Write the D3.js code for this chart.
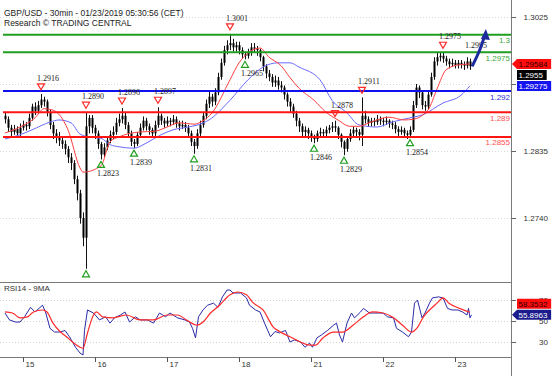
<!DOCTYPE html>
<html>
<head>
<meta charset="utf-8">
<script src="https://cdn.jsdelivr.net/npm/d3@7"></script>
<style>
  body { margin: 0; background: #fff; }
  text { font-family: "Liberation Sans", Arial, sans-serif; }
</style>
</head>
<body>
<div id="chart"></div>
<script>
// GBP/USD hourly bars, hour 0 = Jan 15 00:00, trading hours only (weekend removed)
var startHour = -6;
var firstOpen = 1.2885;

var closes = [
  1.2880, 1.2868, 1.2862, 1.2866, 1.2860, 1.2868,
  1.2872, 1.2870, 1.2882, 1.2898, 1.2892, 1.2900, 1.2908, 1.2905, 1.2890, 1.2872, 1.2860, 1.2855,
  1.2850, 1.2845, 1.2838, 1.2826, 1.2818, 1.2795, 1.2775, 1.2740, 1.2712, 1.2870, 1.2882, 1.2868,
  1.2860, 1.2845, 1.2830, 1.2840, 1.2850, 1.2858, 1.2862, 1.2875, 1.2880, 1.2885, 1.2872, 1.2860,
  1.2848, 1.2845, 1.2858, 1.2868, 1.2878, 1.2870, 1.2865, 1.2860, 1.2872, 1.2885, 1.2878, 1.2874,
  1.2878, 1.2876, 1.2880, 1.2874, 1.2870, 1.2872, 1.2868, 1.2860, 1.2848, 1.2842, 1.2860, 1.2872,
  1.2885, 1.2902, 1.2912, 1.2905, 1.2918, 1.2940, 1.2960, 1.2978, 1.2985, 1.2988, 1.2982, 1.2985,
  1.2978, 1.2972, 1.2970, 1.2975, 1.2982, 1.2980, 1.2978, 1.2968, 1.2955, 1.2945, 1.2940, 1.2932,
  1.2935, 1.2928, 1.2925, 1.2915, 1.2905, 1.2898, 1.2888, 1.2878, 1.2870, 1.2862, 1.2865, 1.2860,
  1.2855, 1.2852, 1.2860, 1.2862, 1.2860, 1.2865, 1.2868, 1.2870, 1.2868, 1.2858, 1.2848, 1.2838,
  1.2852, 1.2860, 1.2865, 1.2862, 1.2858, 1.2885, 1.2880, 1.2875, 1.2878, 1.2876, 1.2880, 1.2878,
  1.2876, 1.2878, 1.2874, 1.2872, 1.2866, 1.2862, 1.2865, 1.2860, 1.2858, 1.2865, 1.2900, 1.2925,
  1.2918, 1.2900, 1.2898, 1.2915, 1.2940, 1.2962, 1.2968, 1.2970, 1.2966, 1.2962, 1.2958, 1.2960,
  1.2957, 1.2960, 1.2958, 1.2956, 1.2962, 1.2955
];

var highs = [
  1.2890, 1.2884, 1.2872, 1.2872, 1.2870, 1.2874, 1.2878, 1.2876, 1.2888, 1.2902, 1.2904, 1.2906,
  1.2916, 1.2912, 1.2908, 1.2894, 1.2876, 1.2866, 1.2862, 1.2856, 1.2850, 1.2842, 1.2832, 1.2822,
  1.2800, 1.2780, 1.2748, 1.2890, 1.2886, 1.2886, 1.2872, 1.2864, 1.2848, 1.2846, 1.2856, 1.2864,
  1.2870, 1.2882, 1.2888, 1.2896, 1.2890, 1.2876, 1.2864, 1.2852, 1.2862, 1.2874, 1.2884, 1.2882,
  1.2874, 1.2868, 1.2878, 1.2897, 1.2888, 1.2882, 1.2884, 1.2882, 1.2886, 1.2884, 1.2878, 1.2878,
  1.2876, 1.2872, 1.2864, 1.2852, 1.2866, 1.2878, 1.2890, 1.2908, 1.2920, 1.2916, 1.2924, 1.2946,
  1.2966, 1.2984, 1.2992, 1.3001, 1.2994, 1.2990, 1.2990, 1.2982, 1.2976, 1.2980, 1.2988, 1.2988,
  1.2984, 1.2980, 1.2970, 1.2958, 1.2950, 1.2944, 1.2942, 1.2940, 1.2934, 1.2928, 1.2918, 1.2910,
  1.2902, 1.2892, 1.2882, 1.2874, 1.2870, 1.2868, 1.2864, 1.2858, 1.2864, 1.2868, 1.2866, 1.2870,
  1.2872, 1.2876, 1.2878, 1.2870, 1.2860, 1.2850, 1.2856, 1.2866, 1.2870, 1.2868, 1.2866, 1.2911,
  1.2892, 1.2884, 1.2882, 1.2882, 1.2886, 1.2884, 1.2882, 1.2884, 1.2880, 1.2878, 1.2876, 1.2870,
  1.2870, 1.2868, 1.2864, 1.2870, 1.2906, 1.2930, 1.2928, 1.2920, 1.2906, 1.2920, 1.2946, 1.2968,
  1.2974, 1.2974, 1.2975, 1.2970, 1.2966, 1.2966, 1.2964, 1.2964, 1.2964, 1.2962, 1.2968, 1.2966
];

var lows = [
  1.2874, 1.2862, 1.2856, 1.2858, 1.2855, 1.2856, 1.2864, 1.2864, 1.2866, 1.2878, 1.2886, 1.2888,
  1.2896, 1.2898, 1.2884, 1.2866, 1.2852, 1.2846, 1.2842, 1.2838, 1.2830, 1.2818, 1.2808, 1.2788,
  1.2765, 1.2732, 1.2700, 1.2668, 1.2860, 1.2860, 1.2852, 1.2838, 1.2823, 1.2826, 1.2836, 1.2846,
  1.2852, 1.2858, 1.2870, 1.2874, 1.2866, 1.2854, 1.2842, 1.2839, 1.2842, 1.2854, 1.2864, 1.2864,
  1.2858, 1.2854, 1.2856, 1.2868, 1.2872, 1.2868, 1.2870, 1.2870, 1.2872, 1.2868, 1.2864, 1.2866,
  1.2862, 1.2854, 1.2842, 1.2831, 1.2838, 1.2856, 1.2868, 1.2880, 1.2896, 1.2898, 1.2900, 1.2914,
  1.2936, 1.2956, 1.2972, 1.2978, 1.2976, 1.2976, 1.2972, 1.2966, 1.2965, 1.2966, 1.2970, 1.2974,
  1.2970, 1.2962, 1.2948, 1.2938, 1.2934, 1.2926, 1.2926, 1.2922, 1.2918, 1.2908, 1.2898, 1.2890,
  1.2882, 1.2870, 1.2862, 1.2856, 1.2856, 1.2852, 1.2848, 1.2846, 1.2848, 1.2855, 1.2854, 1.2856,
  1.2860, 1.2862, 1.2862, 1.2852, 1.2840, 1.2829, 1.2834, 1.2848, 1.2856, 1.2856, 1.2850, 1.2842,
  1.2874, 1.2870, 1.2870, 1.2870, 1.2872, 1.2872, 1.2870, 1.2872, 1.2868, 1.2866, 1.2860, 1.2856,
  1.2858, 1.2854, 1.2852, 1.2854, 1.2862, 1.2896, 1.2910, 1.2894, 1.2892, 1.2894, 1.2912, 1.2936,
  1.2956, 1.2962, 1.2960, 1.2956, 1.2952, 1.2954, 1.2952, 1.2952, 1.2952, 1.2950, 1.2952, 1.2950
];

// moving averages (hour, price)
var maFastHours = [-6, -1, 4, 7, 10, 15, 19, 20, 26, 29, 32, 39, 44, 48, 52, 57, 60, 63, 69, 72,
  75, 79, 82, 86, 89, 92, 97, 101, 105, 109, 112, 116, 122, 127, 130, 135, 138, 141, 145, 149];
var maFastValues = [1.28605, 1.2869, 1.2882, 1.2895, 1.2893, 1.2865, 1.2811, 1.2805, 1.2814, 1.2848,
  1.2855, 1.2862, 1.2863, 1.2869, 1.2875, 1.2873, 1.2878, 1.2889, 1.2936, 1.2960,
  1.2974, 1.2981, 1.2968, 1.2956, 1.2939, 1.2924, 1.2907, 1.2890, 1.2879, 1.2870,
  1.2870, 1.2876, 1.2883, 1.2879, 1.2880, 1.2893, 1.2923, 1.2950, 1.2957, 1.29584];

var maSlowHours = [-6, -1, 3, 9, 12, 16, 19, 22, 26, 29, 32, 37, 41, 46, 50, 55, 59, 62, 69, 75,
  80, 85, 89, 92, 99, 103, 108, 112, 118, 123, 129, 133, 140, 146, 149];
var maSlowValues = [1.2852, 1.2858, 1.2865, 1.2876, 1.2879, 1.2875, 1.2859, 1.2855, 1.2853, 1.2844,
  1.2841, 1.2839, 1.2846, 1.2858, 1.2865, 1.2869, 1.2873, 1.2879, 1.2907, 1.2936,
  1.2954, 1.2960, 1.2960, 1.2954, 1.2936, 1.2907, 1.2889, 1.2872, 1.2869, 1.2876,
  1.2882, 1.2886, 1.2903, 1.2914, 1.29275];

// key levels
var levelPrices = [1.3, 1.2975, 1.292, 1.289, 1.2855];
var levelLabels = ["1.3", "1.2975", "1.292", "1.289", "1.2855"];
var levelKinds = ["resistance", "resistance", "pivot", "support", "support"];

// swing highs / lows
var pivotHours = [6, 21, 33, 45, 69, 104, 113, 140, 21, 26, 37, 57, 74, 97, 107, 129];
var pivotPrices = [1.2916, 1.2890, 1.2896, 1.2897, 1.3001, 1.2878, 1.2911, 1.2975,
  1.2668, 1.2823, 1.2839, 1.2831, 1.2965, 1.2846, 1.2829, 1.2854];
var pivotKinds = ["high", "high", "high", "high", "high", "high", "high", "high",
  "low", "low", "low", "low", "low", "low", "low", "low"];
var pivotLabels = ["1.2916", "1.2890", "1.2896", "1.2897", "1.3001", "1.2878", "1.2911", "1.2975",
  "", "1.2823", "1.2839", "1.2831", "1.2965", "1.2846", "1.2829", "1.2854"];

// projected path
var targetHours = [149.7, 152.3, 154.3];
var targetPrices = [1.2955, 1.2979, 1.3008];
var targetLabel = "1.2995";

// last values
var mainTagValues = [1.29584, 1.2955, 1.29275];
var mainTagKinds = ["fastMA", "close", "slowMA"];

// RSI14 and its 9MA (hour, value)
var rsiHours = [-6, -4.5, -2.5, -1, 0.5, 2.5, 4, 6.5, 7.5, 9, 10.5, 12.5, 14, 15.5, 17.5, 19, 20, 20.5,
  21.5, 23.5, 25.5, 27.5, 29, 30.5, 32.5, 34, 35.5, 37.5, 39, 41.5, 43.5, 45.5, 47.5, 49, 51.5, 54,
  55.5, 56.5, 57.5, 58.5, 60, 61.5, 63.5, 65, 66.5, 68, 69, 70, 72.5, 74.5, 75.5, 77.5, 79, 80.5,
  82.5, 84, 85.5, 87.5, 89, 90.5, 92.5, 94, 95.5, 96.5, 98, 99.5, 101.5, 103.5, 104.5, 105.5, 106.5,
  108, 109.5, 110.5, 112.5, 113.5, 115.5, 118, 120, 121.5, 123.5, 124.5, 126.5, 128.5, 129.5, 130.5,
  131.5, 133, 134, 135.5, 136.5, 138.5, 140, 141.5, 143, 145, 146.5, 148, 148.5, 149, 149.5];
var rsiValues = [57.6, 51, 49, 49, 54, 63, 58.6, 65, 58.6, 43, 39.5, 39.5, 41, 35, 25, 19.5, 17.6, 41,
  60.5, 57.6, 51, 54, 48, 53, 55.7, 58.6, 49, 54, 51, 51, 48, 57.6, 54, 57.6, 53, 51,
  49, 43, 34, 54, 60.5, 65, 67, 63, 73, 79.5, 79.5, 76.7, 76.7, 72, 65, 60.5, 58.6, 48,
  35, 40, 38.6, 41, 30, 32, 30, 25, 29, 25, 34, 36.7, 41, 46, 48, 36.7, 30,
  48, 57.6, 53, 58.6, 62, 57.6, 57.6, 57.6, 54, 53, 43, 39.5, 35, 39.5, 67,
  70, 53, 57.6, 67, 72, 73, 72, 62, 60.5, 60.5, 58.6, 55.7, 62, 53, 55.8963];

var rsiMaHours = [-6, -3.5, -1, 1.5, 3.5, 6.5, 8, 10, 12.5, 14.5, 16.5, 19, 20, 21.5, 23.5, 24.5, 26.5,
  30, 34.5, 39, 43.5, 48, 51.5, 54.5, 58, 60, 62.5, 65.5, 69, 71.5, 74.5, 76.5, 80, 83.5, 85.5, 89,
  92.5, 95.5, 97.5, 100, 103.5, 106.5, 110, 113.5, 116.5, 120, 123.5, 126.5, 129.5, 131.5, 133.5,
  135.5, 138, 140, 142, 145.5, 149];
var rsiMaValues = [58.6, 57.6, 53, 54, 58.6, 60.5, 58.6, 48, 39.5, 35, 30, 25, 24, 38.6, 55.7, 58.6, 54,
  53, 55.7, 51, 51, 55.7, 55.7, 51, 46, 49, 57.6, 65, 75, 77.6, 75, 68, 60.5, 44, 40, 35,
  30, 27, 27, 34, 39.5, 39.5, 46, 54, 58.6, 57.6, 53, 46, 39.5, 44, 54,
  60.5, 67, 72, 67, 62, 58.3532];

var rsiTagValues = [55.8963, 58.3532];
var rsiTagKinds = ["rsi", "rsiMA"];

// axis ticks (1.2930 label sits under the value tags, only its tick mark shows)
var priceTicks = [1.3025, 1.2930, 1.2835, 1.2740];
var priceTickLabels = ["1.3025", "", "1.2835", "1.2740"];
var rsiTicks = [70, 50, 30];
var dayTickHours = [0, 24, 48, 72, 96, 120, 144];
var dayLabels = ["15", "16", "17", "18", "21", "22", "23"];

// ---------------------------------------------------------------------------
var svgWidth = 554;
var svgHeight = 376;
var plotLeft = 0;
var plotRight = 511;
var mainTop = 0;
var mainBottom = 282;
var rsiTop = 282;
var rsiBottom = 357;

var levelColor = { resistance: "#1f9e1f", pivot: "#1010ee", support: "#ff1414" };
var levelTextColor = { resistance: "#39a839", pivot: "#3030dd", support: "#ff5050" };

var svg = d3.select("#chart")
  .append("svg")
  .attr("width", svgWidth)
  .attr("height", svgHeight)
  .style("display", "block");

var defs = svg.append("defs");
defs.append("clipPath").attr("id", "clipMain")
  .append("rect").attr("x", plotLeft).attr("y", mainTop)
  .attr("width", plotRight - plotLeft).attr("height", mainBottom - mainTop);
defs.append("clipPath").attr("id", "clipRsi")
  .append("rect").attr("x", plotLeft).attr("y", rsiTop + 1)
  .attr("width", plotRight - plotLeft).attr("height", rsiBottom - rsiTop - 1);

// scales
var xScale = d3.scaleLinear().domain([-7, 163]).range([2, 512]);
var yPrice = d3.scaleLinear().domain([1.2740, 1.3025]).range([218, 17]);
var yRsi = d3.scaleLinear().domain([30, 70]).range([342, 300]);

// bar objects
var bars = closes.map(function (c, i) {
  return {
    hour: startHour + i,
    open: i === 0 ? firstOpen : closes[i - 1],
    high: highs[i],
    low: lows[i],
    close: c
  };
});

// grid
var gridG = svg.append("g");
gridG.selectAll(".pgrid")
  .data(priceTicks)
  .enter()
  .append("line")
  .attr("x1", plotLeft).attr("x2", plotRight)
  .attr("y1", d => Math.round(yPrice(d)) + 0.5)
  .attr("y2", d => Math.round(yPrice(d)) + 0.5)
  .attr("stroke", "#d8d8d8")
  .attr("stroke-dasharray", "1,2");
gridG.selectAll(".rgrid")
  .data(rsiTicks)
  .enter()
  .append("line")
  .attr("x1", plotLeft).attr("x2", plotRight)
  .attr("y1", d => Math.round(yRsi(d)) + 0.5)
  .attr("y2", d => Math.round(yRsi(d)) + 0.5)
  .attr("stroke", "#d0d0d0")
  .attr("stroke-dasharray", "1,2");

var mainG = svg.append("g").attr("clip-path", "url(#clipMain)");

// candles
var candleG = mainG.append("g");
candleG.selectAll(".wick")
  .data(bars)
  .enter()
  .append("line")
  .attr("x1", d => Math.round(xScale(d.hour)) + 0.5)
  .attr("x2", d => Math.round(xScale(d.hour)) + 0.5)
  .attr("y1", d => yPrice(d.high))
  .attr("y2", d => yPrice(d.low))
  .attr("stroke", "#111")
  .attr("stroke-width", 1);
candleG.selectAll(".body")
  .data(bars)
  .enter()
  .append("rect")
  .attr("x", d => Math.round(xScale(d.hour)) - 0.5)
  .attr("width", 2)
  .attr("y", d => yPrice(Math.max(d.open, d.close)))
  .attr("height", d => Math.max(1, Math.abs(yPrice(d.open) - yPrice(d.close))))
  .attr("fill", "#000");

// moving averages
var maLine = d3.line()
  .x(d => xScale(d[0]))
  .y(d => yPrice(d[1]))
  .curve(d3.curveMonotoneX);

mainG.append("path")
  .datum(d3.zip(maSlowHours, maSlowValues))
  .attr("d", maLine)
  .attr("fill", "none")
  .attr("stroke", "#6a6aff")
  .attr("stroke-width", 1);

mainG.append("path")
  .datum(d3.zip(maFastHours, maFastValues))
  .attr("d", maLine)
  .attr("fill", "none")
  .attr("stroke", "#ff4040")
  .attr("stroke-width", 1);

// key levels
mainG.selectAll(".level")
  .data(levelPrices)
  .enter()
  .append("line")
  .attr("x1", 3).attr("x2", plotRight)
  .attr("y1", d => yPrice(d))
  .attr("y2", d => yPrice(d))
  .attr("stroke", (d, i) => levelColor[levelKinds[i]])
  .attr("stroke-width", 2);

svg.selectAll(".levelText")
  .data(levelPrices)
  .enter()
  .append("text")
  .attr("x", plotRight - 1)
  .attr("y", d => yPrice(d) + 8.5)
  .attr("text-anchor", "end")
  .style("font-size", "8px")
  .style("fill", (d, i) => levelTextColor[levelKinds[i]])
  .text((d, i) => levelLabels[i]);

// pivots
var pivots = pivotHours.map(function (h, i) {
  return { hour: h, price: pivotPrices[i], kind: pivotKinds[i], label: pivotLabels[i] };
});

var pivotG = mainG.append("g");
pivotG.selectAll("path")
  .data(pivots)
  .enter()
  .append("path")
  .attr("d", function (d) {
    var x = xScale(d.hour);
    var y = yPrice(d.price);
    if (d.kind === "high") {
      return "M" + (x - 3.5) + "," + (y - 10) + "L" + (x + 3.5) + "," + (y - 10) + "L" + x + "," + (y - 4) + "Z";
    }
    return "M" + (x - 3.5) + "," + (y + 8) + "L" + (x + 3.5) + "," + (y + 8) + "L" + x + "," + (y + 2) + "Z";
  })
  .attr("fill", "none")
  .attr("stroke", d => d.kind === "high" ? "#ff2a2a" : "#1f9e1f")
  .attr("stroke-width", 1.2);

pivotG.selectAll("text")
  .data(pivots)
  .enter()
  .append("text")
  .attr("x", d => xScale(d.hour) - 4)
  .attr("y", d => d.kind === "high" ? yPrice(d.price) - 13 : yPrice(d.price) + 17)
  .style("font-family", "'Liberation Serif', 'Times New Roman', serif")
  .style("font-size", "8px")
  .style("fill", "#222")
  .text(d => d.label);

// projected target
svg.append("text")
  .attr("x", xScale(targetHours[0]) - 7)
  .attr("y", yPrice(targetPrices[1]) - 1)
  .style("font-family", "'Liberation Serif', 'Times New Roman', serif")
  .style("font-size", "8px")
  .style("fill", "#222")
  .text(targetLabel);

var targetPath = d3.line()
  .x(d => xScale(d[0]))
  .y(d => yPrice(d[1]))
  .curve(d3.curveMonotoneY);
var tPts = d3.zip(targetHours, targetPrices);
var shaftEnd = tPts.slice();
shaftEnd[shaftEnd.length - 1] = [targetHours[2] - 0.3, targetPrices[2] - 0.0008];
svg.append("path")
  .datum(shaftEnd)
  .attr("d", targetPath)
  .attr("fill", "none")
  .attr("stroke", "#1c2a9c")
  .attr("stroke-width", 3);
var tipX = xScale(targetHours[2]);
var tipY = yPrice(targetPrices[2]);
svg.append("path")
  .attr("d", "M" + tipX + "," + tipY + "L" + (tipX - 5) + "," + (tipY + 10) + "L" + (tipX + 4) + "," + (tipY + 11) + "Z")
  .attr("fill", "#1c2a9c");

// RSI panel
var rsiG = svg.append("g").attr("clip-path", "url(#clipRsi)");
var rsiLine = d3.line()
  .x(d => xScale(d[0]))
  .y(d => yRsi(d[1]));

rsiG.append("path")
  .datum(d3.zip(rsiHours, rsiValues))
  .attr("d", rsiLine)
  .attr("fill", "none")
  .attr("stroke", "#2b2ba8")
  .attr("stroke-width", 1);

rsiG.append("path")
  .datum(d3.zip(rsiMaHours, rsiMaValues))
  .attr("d", rsiLine.curve(d3.curveMonotoneX))
  .attr("fill", "none")
  .attr("stroke", "#ff2a2a")
  .attr("stroke-width", 1.2);

// panel frames
var frameG = svg.append("g").attr("stroke", "#7a7a7a").attr("stroke-width", 1);
frameG.append("line").attr("x1", 0).attr("x2", plotRight).attr("y1", rsiTop + 0.5).attr("y2", rsiTop + 0.5);
frameG.append("line").attr("x1", 0).attr("x2", plotRight).attr("y1", rsiBottom + 0.5).attr("y2", rsiBottom + 0.5);
frameG.append("line").attr("x1", plotRight + 0.5).attr("x2", plotRight + 0.5).attr("y1", 0).attr("y2", svgHeight);

// right axes
var priceAxis = d3.axisRight(yPrice)
  .tickValues(priceTicks)
  .tickSize(4)
  .tickFormat((d, i) => priceTickLabels[i]);
var rsiAxis = d3.axisRight(yRsi)
  .tickValues(rsiTicks)
  .tickSize(4)
  .tickFormat(d3.format("d"));

[priceAxis, rsiAxis].forEach(function (axis) {
  var g = svg.append("g")
    .attr("transform", `translate(${plotRight + 1}, 0)`)
    .call(axis);
  g.select(".domain").remove();
  g.selectAll(".tick line").attr("stroke", "#666");
  g.selectAll(".tick text")
    .attr("x", 36)
    .attr("text-anchor", "end")
    .style("font-family", "'Liberation Sans', Arial, sans-serif")
    .style("font-size", "8px")
    .style("fill", "#333");
});

// day axis
var dayG = svg.append("g");
dayG.selectAll("line")
  .data(dayTickHours)
  .enter()
  .append("line")
  .attr("x1", d => Math.round(xScale(d)) + 0.5)
  .attr("x2", d => Math.round(xScale(d)) + 0.5)
  .attr("y1", rsiBottom)
  .attr("y2", rsiBottom + 5)
  .attr("stroke", "#555");
dayG.selectAll("text")
  .data(dayTickHours)
  .enter()
  .append("text")
  .attr("x", d => xScale(d) + 2.5)
  .attr("y", rsiBottom + 10)
  .style("font-size", "8px")
  .style("fill", "#333")
  .text((d, i) => dayLabels[i]);

// value tags
function drawTag(y, label, fill, textFill, withArrow) {
  var w = label.length * 4.45 + 3;
  var g = svg.append("g");
  var x0 = plotRight + 6;
  var path = "M" + x0 + "," + (y - 5) + "H" + (x0 + w) + "V" + (y + 5) + "H" + x0;
  path += withArrow ? "L" + (plotRight + 1) + "," + y + "Z" : "Z";
  g.append("path").attr("d", path).attr("fill", fill);
  g.append("text")
    .attr("x", x0 + 1.5)
    .attr("y", y + 3)
    .style("font-size", "8px")
    .style("fill", textFill)
    .text(label);
}

var tagStyle = {
  fastMA: { fill: "#ff0d0d", text: "#2a0000", arrow: true },
  close: { fill: "#000", text: "#fff", arrow: false },
  slowMA: { fill: "#1414f0", text: "#fff", arrow: false },
  rsi: { fill: "#1c1c8c", text: "#fff", arrow: true },
  rsiMA: { fill: "#ff0d0d", text: "#2a0000", arrow: false }
};

// stack main tags downward, rsi tags upward
var prevY = -Infinity;
mainTagValues.forEach(function (v, i) {
  var y = Math.max(yPrice(v), prevY + 11);
  prevY = y;
  var s = tagStyle[mainTagKinds[i]];
  drawTag(y, String(v), s.fill, s.text, s.arrow);
});
var prevR = Infinity;
rsiTagValues.forEach(function (v, i) {
  var y = Math.min(yRsi(v), prevR - 11);
  prevR = y;
  var s = tagStyle[rsiTagKinds[i]];
  drawTag(y, v.toFixed(4), s.fill, s.text, s.arrow);
});

// titles
svg.append("text")
  .attr("x", 4).attr("y", 16)
  .style("font-size", "8.5px").style("fill", "#222")
  .text("GBP/USD - 30min - 01/23/2019 05:30:56 (CET)");
svg.append("text")
  .attr("x", 4).attr("y", 26)
  .style("font-size", "8.5px").style("fill", "#222")
  .text("Research \u00A9 TRADING CENTRAL");
svg.append("text")
  .attr("x", 4).attr("y", rsiTop + 9)
  .style("font-size", "8px").style("fill", "#333")
  .text("RSI14 - 9MA");
</script>
</body>
</html>
